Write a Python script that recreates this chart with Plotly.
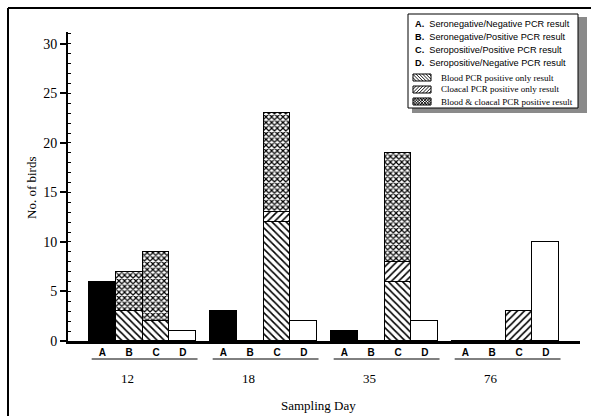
import plotly.graph_objects as go

# ---------------- data ----------------
days = ["12", "18", "35", "76"]
letters = ["A", "B", "C", "D"]
sero_neg_pcr_neg = [6, 3, 1, 0]          # A (solid black)
blood_only_B = [3, 0, 0, 0]
blood_only_C = [2, 12, 6, 0]
cloacal_only_B = [0, 0, 0, 0]
cloacal_only_C = [0, 1, 2, 3]
both_B = [4, 0, 0, 0]
both_C = [7, 10, 11, 0]
sero_pos_pcr_neg = [1, 2, 2, 10]         # D (white)
y_ticks = [0, 5, 10, 15, 20, 25, 30]

legend_letter_lines = [
    ("A.", "Seronegative/Negative PCR result"),
    ("B.", "Seronegative/Positive PCR result"),
    ("C.", "Seropositive/Positive PCR result"),
    ("D.", "Seropositive/Negative PCR result"),
]
legend_pattern_lines = [
    ("\\", "Blood PCR positive only result"),
    ("/", "Cloacal PCR positive only result"),
    ("x", "Blood & cloacal PCR positive result"),
]

# ---------------- layout geometry ----------------
W, H = 591, 416
ML, MR, MT, MB = 68, 11, 32, 75
PW, PH = W - ML - MR, H - MT - MB
BAR_PX = 26.8
GROUP_STEP = 121 / BAR_PX
X0 = -(102.4 - ML) / BAR_PX
X1 = X0 + PW / BAR_PX


def px_x(p):
    return (p - ML) / PW


def px_y(p):
    return (H - MB - p) / PH


def xpos(g, b):
    return g * GROUP_STEP + b


LINE = dict(color="black", width=1.5)
SERIF = "Liberation Serif, Times New Roman, serif"
SANS = "Liberation Sans, Arial, sans-serif"

fig = go.Figure()

fig.add_trace(go.Bar(x=[xpos(g, 0) for g in range(4)], y=sero_neg_pcr_neg, width=1,
                     marker=dict(color="black", line=LINE), showlegend=False))


def pat_trace(valsB, valsC, shape, size, sol):
    xs, ys = [], []
    for g in range(4):
        xs += [xpos(g, 1), xpos(g, 2)]
        ys += [valsB[g], valsC[g]]
    return go.Bar(x=xs, y=ys, width=1,
                  marker=dict(color="white", line=LINE,
                              pattern=dict(shape=shape, fgcolor="black", bgcolor="white",
                                           size=size, solidity=sol)),
                  showlegend=False)


fig.add_trace(pat_trace(blood_only_B, blood_only_C, "\\", 5, 0.32))
fig.add_trace(pat_trace(cloacal_only_B, cloacal_only_C, "/", 5, 0.32))
fig.add_trace(pat_trace(both_B, both_C, "x", 4, 0.5))

fig.add_trace(go.Bar(x=[xpos(g, 3) for g in range(4)], y=sero_pos_pcr_neg, width=1,
                     marker=dict(color="white", line=LINE), showlegend=False))

tickvals, ticktext = [], []
for g in range(4):
    for b in range(4):
        tickvals.append(xpos(g, b))
        ticktext.append("<b>%s</b>" % letters[b])

fig.update_layout(
    template="none",
    width=W, height=H, barmode="stack",
    margin=dict(l=ML, r=MR, t=MT, b=MB, pad=0),
    plot_bgcolor="white", paper_bgcolor="white",
    font=dict(family=SERIF, color="black"),
    xaxis=dict(range=[X0, X1], showgrid=False, zeroline=False, showline=True,
               linecolor="black", linewidth=2.5, ticks="", tickvals=tickvals,
               ticktext=ticktext, tickfont=dict(family=SANS, size=10, color="black")),
    yaxis=dict(range=[0, 31.2], showgrid=False, zeroline=False, showline=True,
               linecolor="black", linewidth=2, ticks="outside", ticklen=6, tickwidth=1.5,
               tickcolor="black", tickvals=y_ticks,
               tickfont=dict(family=SERIF, size=14, color="black"),
               minor=dict(dtick=1, ticks="inside", ticklen=3, tickcolor="black", tickwidth=1)),
    bargap=0,
)

shapes = []
annotations = []


def pline(xa, ya, xb, yb, w=1.0, color="black"):
    shapes.append(dict(type="line", xref="paper", yref="paper", x0=px_x(xa), x1=px_x(xb),
                       y0=px_y(ya), y1=px_y(yb), line=dict(color=color, width=w)))


def prect(xa, ya, xb, yb, fill, lw=0):
    shapes.append(dict(type="rect", xref="paper", yref="paper", x0=px_x(xa), x1=px_x(xb),
                       y0=px_y(ya), y1=px_y(yb), fillcolor=fill,
                       line=dict(color="black", width=lw)))


# outer frame
pline(8, 8, 595, 8, 2)
pline(8, 8, 8, 420, 2)

# legend shadow and box
prect(578, 17, 587, 113, "#8a8a8a")
prect(412, 108, 587, 113, "#8a8a8a")
prect(408, 14, 578, 108, "white", 1)

for i, (lt, txt) in enumerate(legend_letter_lines):
    annotations.append(dict(xref="paper", yref="paper", x=px_x(413), y=px_y(24 + 13 * i),
                            xanchor="left", yanchor="middle", showarrow=False,
                            text="<b>%s</b>  %s" % (lt, txt),
                            font=dict(family=SANS, size=9.2, color="black")))

# legend swatches (hatch lines drawn as shapes)
SW_X0, SW_W, SW_H = 413, 18, 7
sw_top = [74, 86, 98]


def hatch(x0, y0, x1, y1, kind, step=3.5):
    if kind in ("\\", "x"):
        c = x0 - y1
        while c < x1 - y0:
            xs, xe = max(x0, y0 + c), min(x1, y1 + c)
            if xe > xs:
                pline(xs, xs - c, xe, xe - c, 0.9)
            c += step
    if kind in ("/", "x"):
        c = x0 + y0
        while c < x1 + y1:
            xs, xe = max(x0, c - y1), min(x1, c - y0)
            if xe > xs:
                pline(xs, c - xs, xe, c - xe, 0.9)
            c += step


for (kind, txt), top in zip(legend_pattern_lines, sw_top):
    hatch(SW_X0, top, SW_X0 + SW_W, top + SW_H, kind, 2.8 if kind == "x" else 3.3)
    prect(SW_X0, top, SW_X0 + SW_W, top + SW_H, "rgba(0,0,0,0)", 1)
    annotations.append(dict(xref="paper", yref="paper", x=px_x(439), y=px_y(top + 3.5),
                            xanchor="left", yanchor="middle", showarrow=False, text=txt,
                            font=dict(family=SERIF, size=9, color="black")))

# group underlines and day labels
for g, d in enumerate(days):
    shapes.append(dict(type="line", xref="x", yref="paper", x0=xpos(g, 0) - 0.4,
                       x1=xpos(g, 3) + 0.55, y0=px_y(359), y1=px_y(359),
                       line=dict(color="black", width=1)))
    annotations.append(dict(xref="x", yref="paper", x=xpos(g, 0.95), y=px_y(378),
                            xanchor="center", yanchor="middle", showarrow=False, text=d,
                            font=dict(family=SERIF, size=13, color="black")))

annotations.append(dict(xref="paper", yref="paper", x=px_x(318), y=px_y(405),
                        xanchor="center", yanchor="middle", showarrow=False,
                        text="Sampling Day", font=dict(family=SERIF, size=13, color="black")))
annotations.append(dict(xref="paper", yref="paper", x=px_x(31), y=px_y(188),
                        xanchor="center", yanchor="middle", showarrow=False, textangle=-90,
                        text="No. of birds", font=dict(family=SERIF, size=13, color="black")))

fig.update_layout(shapes=shapes, annotations=annotations)
fig.write_html("out.html", config={"displayModeBar": False},
               post_script="document.body.style.margin='0';document.body.style.overflow='hidden';")
